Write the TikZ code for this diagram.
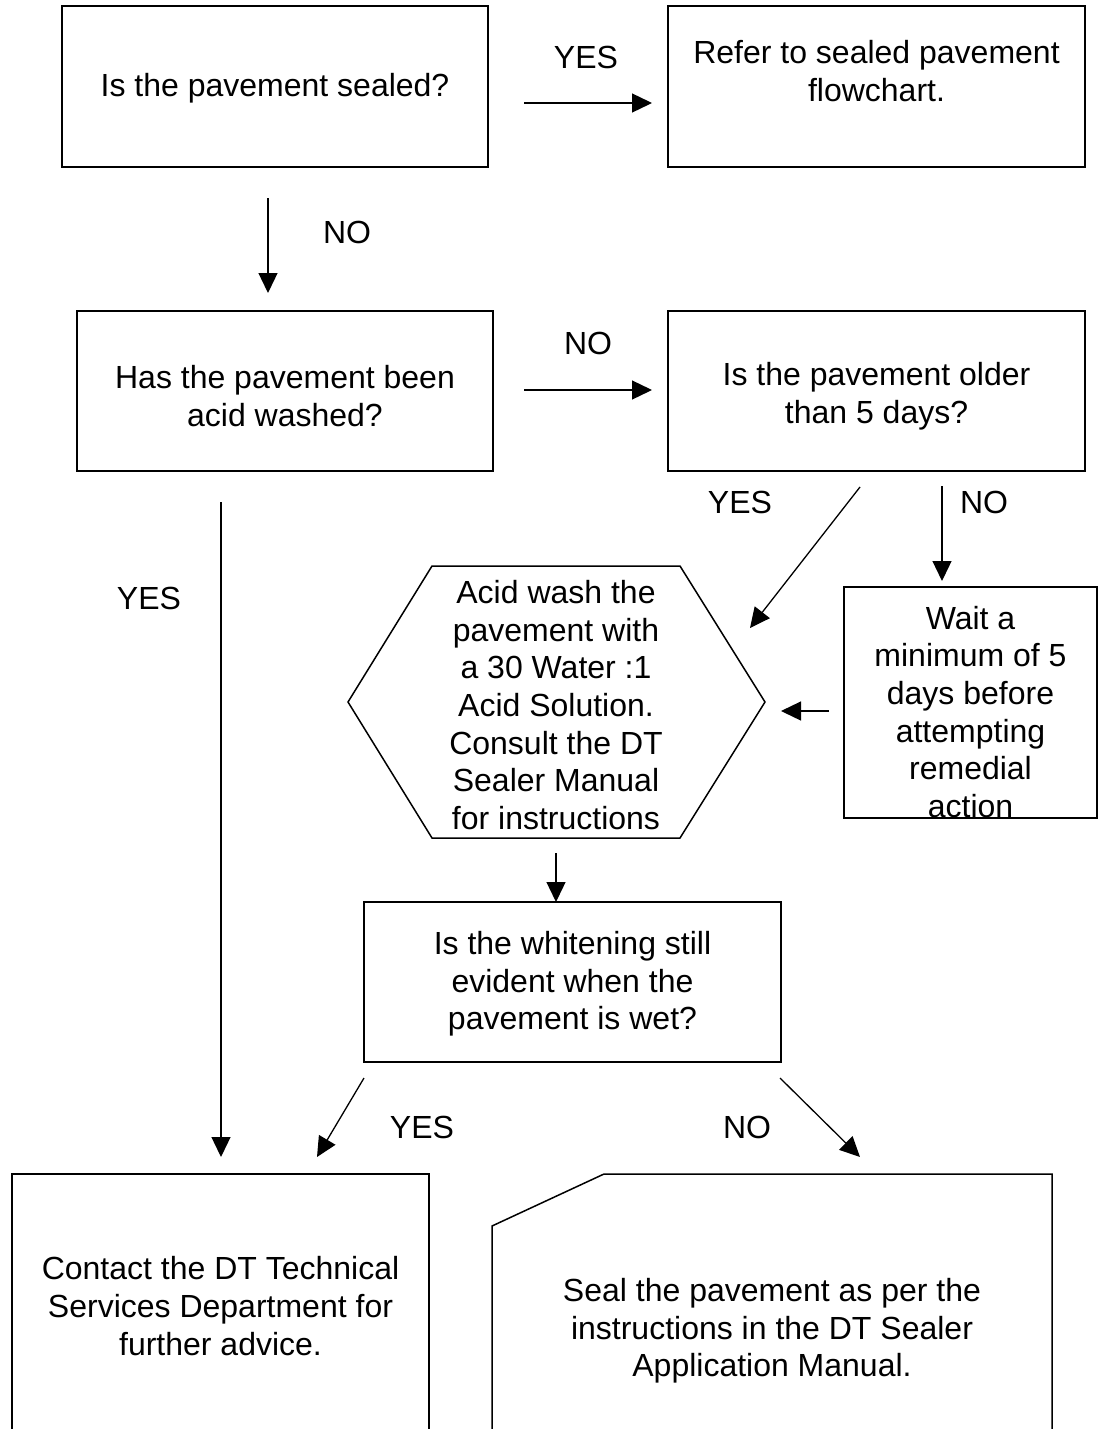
\documentclass[tikz,border=0pt]{standalone}
\usepackage{fontspec}
\setmainfont{Liberation Sans}
\usetikzlibrary{arrows.meta}
\begin{document}
\begin{tikzpicture}[x=1pt,y=-1pt,
  box/.style={draw, line width=1.7pt, inner sep=0pt},
  shp/.style={draw, line width=1.5pt, line join=miter},
  txt/.style={align=center, font=\fontsize{32}{37.7}\selectfont, inner sep=0pt},
  lbl/.style={font=\fontsize{32}{37.7}\selectfont, inner sep=0pt},
  arr/.style={line width=1.3pt, -{Triangle[length=20pt,width=19pt]}}]
\useasboundingbox (0,0) rectangle (1099,1429);
\clip (0,0) rectangle (1099,1429);

% boxes
\node[box, minimum width=426pt, minimum height=161pt] (b1) at (275,86.5) {};
\node[txt] (t1) at (275,88) {Is the pavement sealed?};
\node[box, minimum width=417pt, minimum height=161pt] (b2) at (876.5,86.5) {};
\node[txt] (t2) at (876.5,71) {Refer to sealed pavement\\flowchart.};
\node[box, minimum width=416pt, minimum height=160pt] (b3) at (285,391) {};
\node[txt] (t3) at (285,396) {Has the pavement been\\acid washed?};
\node[box, minimum width=417pt, minimum height=160pt] (b4) at (876.5,391) {};
\node[txt] (t4) at (876.5,396) {Is the pavement older\\than 5 days?};
\node[box, minimum width=253pt, minimum height=231pt] (bw) at (970.5,702.5) {};
\node[txt] (tw) at (970.5,712) {Wait a\\minimum of 5\\days before\\attempting\\remedial\\action};
% hexagon
\draw[shp] (348,702) -- (432,566) -- (680,566) -- (765,702) -- (680,838) -- (432,838) -- cycle;
\node[txt] (th) at (556,705) {Acid wash the\\pavement with\\a 30 Water :1\\Acid Solution.\\Consult the DT\\Sealer Manual\\for instructions};
\node[box, minimum width=417pt, minimum height=160pt] (b5) at (572.5,982) {};
\node[txt] (t5) at (572.5,984) {Is the whitening still\\evident when the\\pavement is wet?};
% bottom boxes
\draw[shp] (12,1445) -- (12,1174) -- (429,1174) -- (429,1445);
\node[txt] (t6) at (220.5,1306) {Contact the DT Technical\\Services Department for\\further advice.};
\draw[shp] (492,1445) -- (492,1226) -- (604,1174) -- (1052,1174) -- (1052,1445);
\node[txt] (t7) at (772,1331) {Seal the pavement as per the\\instructions in the DT Sealer\\Application Manual.};

% connector end points
\coordinate (a1s) at (524,103);  \coordinate (a1e) at (652,103);
\coordinate (a2s) at (268,198);  \coordinate (a2e) at (268,293);
\coordinate (a3s) at (524,390);  \coordinate (a3e) at (652,390);
\coordinate (a4s) at (860,487);  \coordinate (a4e) at (750,628);
\coordinate (a5s) at (942,486);  \coordinate (a5e) at (942,581);
\coordinate (a6s) at (829,711);  \coordinate (a6e) at (781,711);
\coordinate (a7s) at (556,853);  \coordinate (a7e) at (556,902);
\coordinate (a8s) at (221,502);  \coordinate (a8e) at (221,1157);
\coordinate (a9s) at (364,1078); \coordinate (a9e) at (317,1157);
\coordinate (a10s) at (780,1078); \coordinate (a10e) at (860,1157);

\draw[arr] (a1s) -- (a1e);
\draw[arr] (a2s) -- (a2e);
\draw[arr] (a3s) -- (a3e);
\draw[arr] (a4s) -- (a4e);
\draw[arr] (a5s) -- (a5e);
\draw[arr] (a6s) -- (a6e);
\draw[arr] (a7s) -- (a7e);
\draw[arr] (a8s) -- (a8e);
\draw[arr] (a9s) -- (a9e);
\draw[arr] (a10s) -- (a10e);

% labels
\node[lbl] (l1) at (586,57) {YES};
\node[lbl] (l2) at (347,232) {NO};
\node[lbl] (l3) at (588,343) {NO};
\node[lbl] (l4) at (740,502) {YES};
\node[lbl] (l5) at (984,502) {NO};
\node[lbl] (l6) at (149,598) {YES};
\node[lbl] (l7) at (422,1127) {YES};
\node[lbl] (l8) at (747,1127) {NO};
\end{tikzpicture}
\end{document}
